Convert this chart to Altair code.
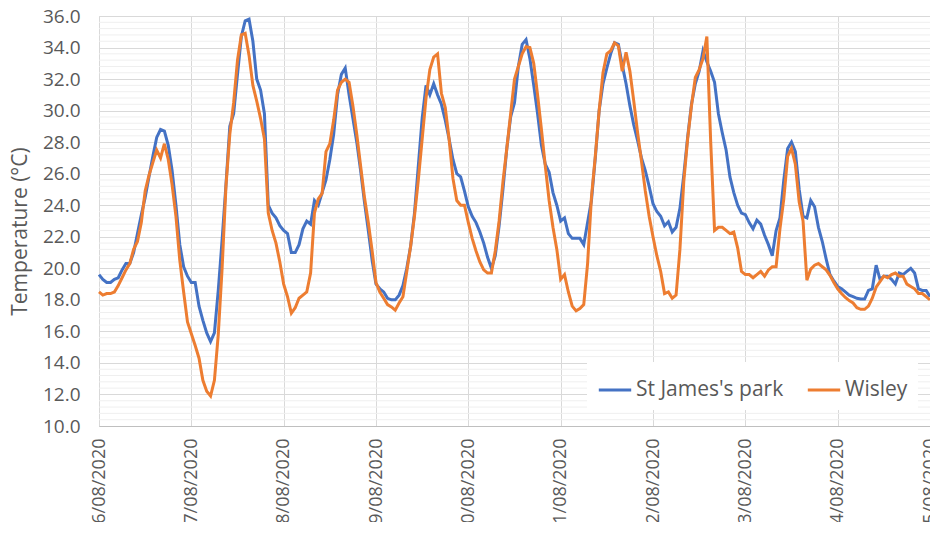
import altair as alt
import pandas as pd

series_names = ["St James's park", "Wisley"]
series_colors = ["#4472C4", "#ED7D31"]

# Hourly temperatures 06/08/2020 00:00 -> 15/08/2020 00:00 (217 readings)
st_james = [
    # 06/08
    19.6, 19.3, 19.1, 19.1, 19.3, 19.4, 19.9, 20.3, 20.3, 21.0, 22.2, 23.4,
    24.5, 25.8, 27.1, 28.3, 28.8, 28.7, 27.8, 26.2, 24.0, 21.5, 20.1, 19.5,
    # 07/08
    19.1, 19.1, 17.6, 16.7, 15.9, 15.35, 15.9, 18.6, 21.8, 25.3, 29.0, 29.8,
    32.3, 34.7, 35.7, 35.8, 34.4, 32.0, 31.3, 29.8, 24.0, 23.5, 23.2, 22.7,
    # 08/08
    22.4, 22.2, 21.0, 21.0, 21.5, 22.5, 23.0, 22.8, 24.3, 24.0, 24.8, 25.6,
    26.9, 28.5, 31.0, 32.3, 32.7, 31.0, 29.5, 28.0, 26.2, 24.2, 22.4, 20.5,
    # 09/08
    19.0, 18.7, 18.5, 18.1, 18.0, 18.0, 18.3, 18.9, 20.0, 21.4, 23.5, 26.5,
    29.5, 31.6, 31.0, 31.7, 31.0, 30.4, 29.4, 28.2, 26.9, 26.0, 25.8, 24.9,
    # 10/08
    23.9, 23.3, 22.9, 22.3, 21.6, 20.7, 20.0, 20.8, 22.7, 25.0, 27.6, 29.6,
    30.5, 32.8, 34.2, 34.5, 33.3, 31.6, 29.8, 27.8, 26.6, 26.1, 24.8, 24.0,
    # 11/08
    23.0, 23.2, 22.2, 21.9, 21.9, 21.9, 21.5, 22.9, 24.3, 27.0, 30.0, 31.7,
    32.7, 33.6, 34.3, 34.2, 32.9, 31.7, 30.3, 29.1, 28.1, 27.0, 26.2, 25.2,
    # 12/08
    24.1, 23.6, 23.3, 22.7, 22.95, 22.3, 22.6, 23.8, 25.9, 28.3, 30.4, 31.7,
    32.5, 33.8, 33.1, 32.5, 31.8, 29.8, 28.6, 27.5, 25.8, 24.8, 24.0, 23.5,
    # 13/08
    23.4, 22.9, 22.5, 23.05, 22.8, 22.1, 21.5, 20.8, 22.4, 23.2, 25.6, 27.6,
    28.0, 27.4, 25.0, 23.3, 23.2, 24.3, 23.9, 22.6, 21.7, 20.6, 19.6, 19.2,
    # 14/08 + 15/08 00:00
    18.85, 18.7, 18.5, 18.3, 18.2, 18.1, 18.05, 18.05, 18.6, 18.7, 20.2, 19.3,
    19.5, 19.5, 19.3, 19.0, 19.7, 19.6, 19.8, 20.0, 19.7, 18.7, 18.6, 18.6,
    18.2,
]

wisley = [
    # 06/08
    18.5, 18.3, 18.4, 18.4, 18.5, 18.9, 19.4, 19.9, 20.3, 21.2, 21.7, 22.9,
    24.9, 25.9, 26.7, 27.5, 27.0, 27.9, 26.9, 25.3, 23.3, 20.5, 18.5, 16.6,
    # 07/08
    15.85, 15.1, 14.3, 12.9, 12.2, 11.9, 12.9, 15.8, 20.0, 25.2, 28.5, 30.5,
    33.2, 34.8, 34.9, 33.5, 31.6, 30.6, 29.5, 28.2, 23.5, 22.4, 21.6, 20.4,
    # 08/08
    19.0, 18.2, 17.15, 17.5, 18.1, 18.3, 18.5, 19.7, 23.5, 24.4, 24.75, 27.4,
    27.9, 29.4, 31.3, 31.8, 32.0, 31.8, 30.3, 28.5, 26.5, 24.5, 22.9, 21.1,
    # 09/08
    19.1, 18.5, 18.1, 17.7, 17.55, 17.35, 17.8, 18.2, 19.8, 21.4, 23.3, 25.6,
    28.2, 30.8, 32.6, 33.4, 33.6, 31.1, 30.2, 28.2, 25.7, 24.3, 24.0, 24.0,
    # 10/08
    22.9, 21.9, 21.1, 20.4, 19.9, 19.7, 19.7, 21.1, 23.0, 25.5, 27.6, 29.8,
    32.0, 32.8, 33.6, 34.05, 34.0, 33.0, 31.0, 28.8, 26.5, 24.3, 22.6, 21.2,
    # 11/08
    19.3, 19.6, 18.5, 17.6, 17.3, 17.45, 17.7, 20.3, 24.5, 27.1, 30.0, 32.4,
    33.6, 33.8, 34.3, 34.1, 32.5, 33.7, 32.5, 30.6, 28.6, 26.8, 24.9, 23.3,
    # 12/08
    22.0, 20.8, 19.8, 18.4, 18.5, 18.1, 18.3, 21.2, 25.5, 28.2, 30.3, 32.1,
    32.6, 33.3, 34.7, 28.0, 22.4, 22.6, 22.6, 22.4, 22.2, 22.3, 21.3, 19.8,
    # 13/08
    19.6, 19.6, 19.4, 19.6, 19.8, 19.5, 19.9, 20.1, 20.1, 22.5, 24.4, 27.1,
    27.6, 26.6, 24.2, 23.0, 19.25, 19.95, 20.2, 20.3, 20.1, 19.9, 19.55, 19.1,
    # 14/08 + 15/08 00:00
    18.7, 18.4, 18.15, 17.95, 17.8, 17.5, 17.4, 17.4, 17.6, 18.1, 18.8, 19.15,
    19.5, 19.4, 19.6, 19.7, 19.5, 19.5, 19.0, 18.85, 18.7, 18.4, 18.4, 18.2,
    18.0,
]

y_ticks = [10, 12, 14, 16, 18, 20, 22, 24, 26, 28, 30, 32, 34, 36]
minor_y = [round(10 + 0.4 * i, 1) for i in range(66) if (i % 5) != 0]
day_numbers = [6, 7, 8, 9, 10, 11, 12, 13, 14, 15]

times = pd.date_range("2020-08-06 00:00", periods=len(st_james), freq="h")
df = pd.concat([
    pd.DataFrame({"time": times, "series": series_names[0], "temp": st_james}),
    pd.DataFrame({"time": times, "series": series_names[1], "temp": wisley}),
])
df_minor = pd.DataFrame({"y": minor_y})

FONT = "Open Sans"
TXT = "#595959"
GRID = "#d9d9d9"

y_scale = alt.Scale(domain=[10, 36], nice=False, zero=False)
x_scale = alt.Scale(
    domain=[alt.DateTime(year=2020, month=8, date=6), alt.DateTime(year=2020, month=8, date=15)],
    nice=False,
)

y_axis = alt.Axis(
    values=y_ticks,
    format=".1f",
    labelFontSize=19,
    labelColor=TXT,
    labelFont=FONT,
    labelPadding=19,
    ticks=False,
    domain=False,
    grid=True,
    gridColor=GRID,
    titleFontSize=21,
    titleFontWeight="normal",
    titleColor=TXT,
    titleFont=FONT,
    titlePadding=12,
    titleY=215,
)
y_title = "Temperature (°C)"

minor = alt.Chart(df_minor).mark_rule(color="#efefef", strokeWidth=1).encode(
    y=alt.Y("y:Q", scale=y_scale, title=y_title, axis=y_axis)
)

lines = alt.Chart(df).mark_line(strokeWidth=3, interpolate="linear").encode(
    x=alt.X(
        "time:T",
        scale=x_scale,
        title=None,
        axis=alt.Axis(
            values=[alt.DateTime(year=2020, month=8, date=d) for d in day_numbers],
            format="%d/%m/%Y",
            labelAngle=270,
            labelFontSize=18,
            labelColor=TXT,
            labelFont=FONT,
            labelPadding=12,
            labelOverlap=False,
            labelFlush=False,
            ticks=False,
            grid=True,
            gridColor=GRID,
            domainColor="#bfbfbf",
        ),
    ),
    y=alt.Y("temp:Q", scale=y_scale, title=y_title, axis=y_axis),
    color=alt.Color(
        "series:N",
        scale=alt.Scale(domain=series_names, range=series_colors),
        legend=alt.Legend(
            title=None,
            orient="none",
            legendX=488,
            legendY=346,
            direction="horizontal",
            fillColor="white",
            padding=10,
            symbolType="stroke",
            symbolSize=1050,
            symbolStrokeWidth=3,
            labelFontSize=21,
            labelColor=TXT,
            labelFont=FONT,
            labelLimit=400,
            labelOffset=3,
            columnPadding=17,
        ),
    ),
)

chart = alt.layer(minor, lines).properties(
    width=831,
    height=410,
    autosize=alt.AutoSizeParams(type="none"),
    padding={"left": 91, "top": 8, "right": 0, "bottom": 96},
).configure_view(stroke=None).configure(font=FONT)

chart.save("out.html", embed_options={"renderer": "svg", "actions": False})
